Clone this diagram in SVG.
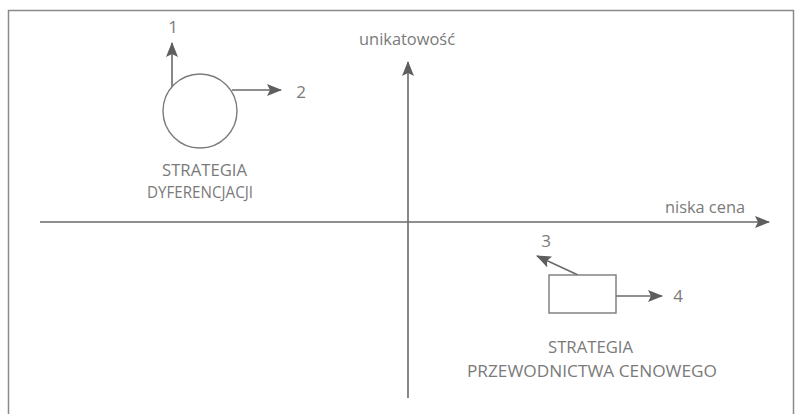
<svg xmlns="http://www.w3.org/2000/svg" width="795" height="414" viewBox="0 0 795 414">
<style>
.ln{stroke:#6a6a6a;stroke-width:1.6;fill:none}
.sh{stroke:#7a7a7a;stroke-width:1.4;fill:#fff}
.t{font-family:"Open Sans","Liberation Sans",sans-serif;fill:#7a7a7a;font-size:16px}
.k{font-size:17px}
.m{font-size:16px}
.c{text-anchor:middle}
</style>
<defs>
<marker id="ah" markerWidth="16" markerHeight="12" refX="14" refY="6" orient="auto" markerUnits="userSpaceOnUse">
<path d="M0,0 L15,6 L0,12 L3,6 Z" fill="#5e5e5e"/>
</marker>
</defs>
<rect x="0" y="0" width="795" height="414" fill="#fff"/>
<rect x="8.5" y="10.5" width="785" height="420" fill="none" stroke="#8a8a8a" stroke-width="1.5"/>
<g id="connectors">
<line class="ln" x1="40" y1="222" x2="769" y2="222" marker-end="url(#ah)"/>
<line class="ln" x1="408" y1="398" x2="408" y2="62" marker-end="url(#ah)"/>
<line class="ln" x1="172" y1="88" x2="172" y2="43" marker-end="url(#ah)"/>
<line class="ln" x1="232" y1="90" x2="281" y2="90" marker-end="url(#ah)"/>
<line class="ln" x1="616" y1="296" x2="662" y2="296" marker-end="url(#ah)"/>
<line class="ln" x1="578" y1="275" x2="537" y2="256" marker-end="url(#ah)"/>
</g>
<g id="circle-node">
<circle class="sh" cx="200" cy="111" r="37"/>
<text class="t m" x="162" y="176" textLength="85" lengthAdjust="spacingAndGlyphs">STRATEGIA</text>
<text class="t m" x="147" y="198" textLength="106" lengthAdjust="spacingAndGlyphs">DYFERENCJACJI</text>
</g>
<g id="rect-node">
<rect class="sh" x="549" y="275" width="67" height="38"/>
<text class="t k" x="548" y="353" textLength="85" lengthAdjust="spacingAndGlyphs">STRATEGIA</text>
<text class="t k" x="467" y="377" textLength="250" lengthAdjust="spacingAndGlyphs">PRZEWODNICTWA CENOWEGO</text>
</g>
<g id="labels">
<text class="t k c" x="173" y="33">1</text>
<text class="t k c" x="301" y="98">2</text>
<text class="t k c" x="546" y="247">3</text>
<text class="t k c" x="678" y="302">4</text>
<text class="t" x="359" y="45" textLength="96" lengthAdjust="spacingAndGlyphs">unikatowość</text>
<text class="t" x="665" y="213" textLength="80" lengthAdjust="spacingAndGlyphs">niska cena</text>
</g>
</svg>
